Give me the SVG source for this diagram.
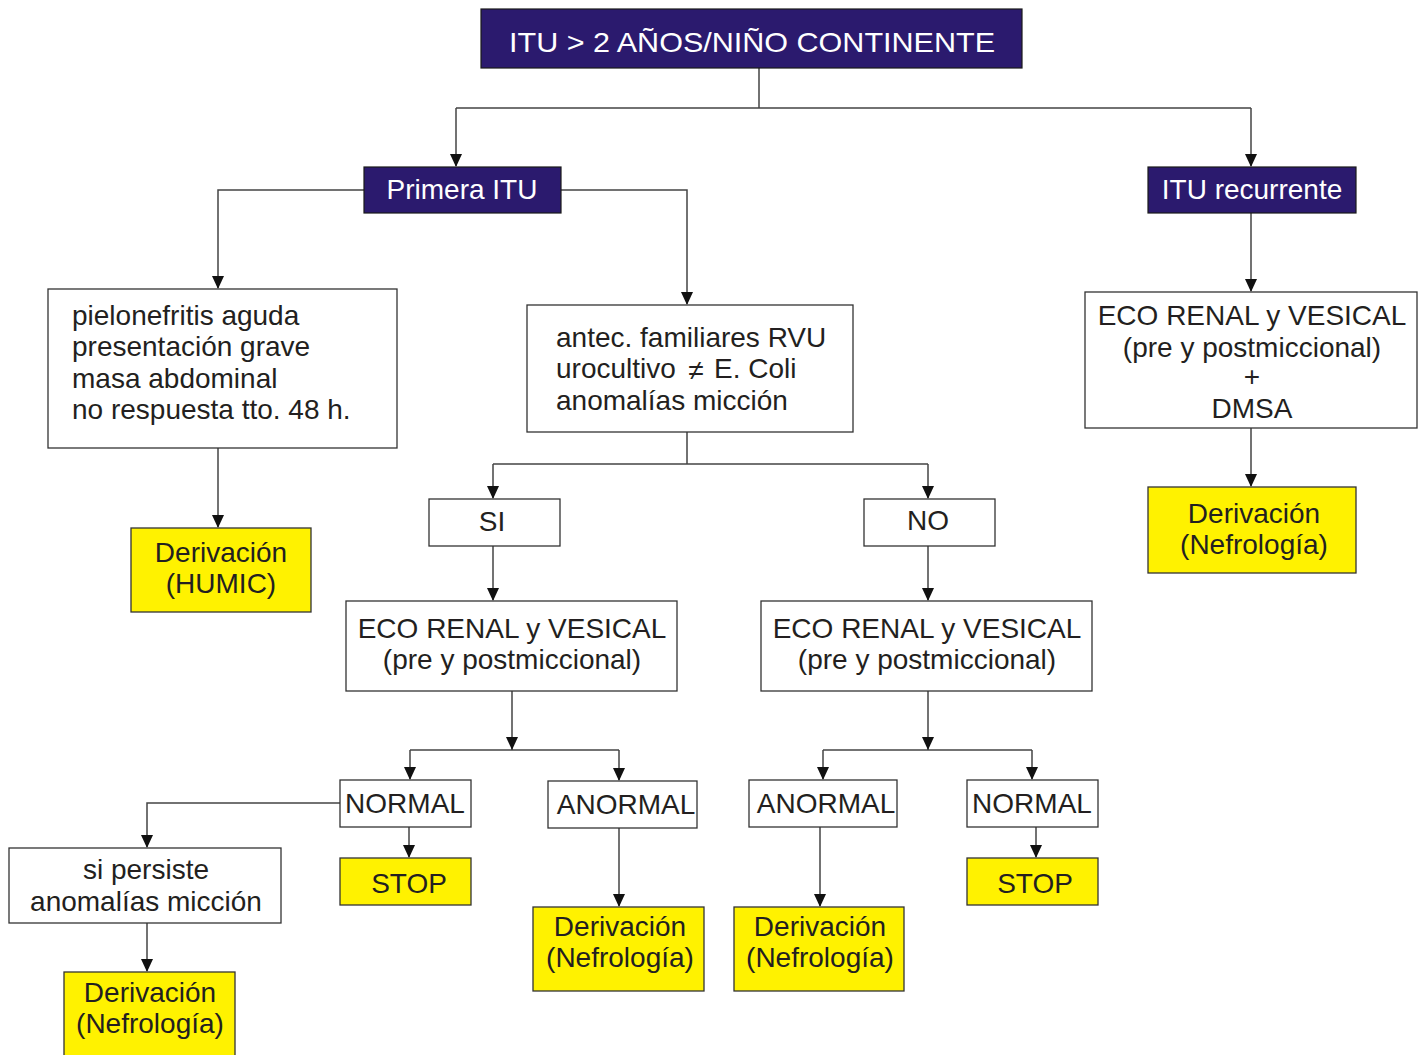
<svg xmlns="http://www.w3.org/2000/svg" width="1426" height="1055" viewBox="0 0 1426 1055">
<style>
text{font-family:"Liberation Sans",Arial,sans-serif;font-size:28px;fill:#231f20}
.c{text-anchor:middle}
.w{fill:#ffffff}
.dark{fill:#2b1a6e;stroke:#1a1a1a;stroke-width:1.2}
.box{fill:#ffffff;stroke:#333;stroke-width:1.3}
.yel{fill:#fff200;stroke:#333;stroke-width:1.3}
.ln{fill:none;stroke:#444;stroke-width:1.5}
</style>
<defs>
<path id="ah" d="M-6,-13 L6,-13 L0,0 Z" fill="#111"/>
</defs>
<g id="connectors">
<path class="ln" d="M759,68 V108 M456,108 H1251"/>
<path class="ln" d="M456,108 V166"/>
<path class="ln" d="M1251,108 V166"/>
<path class="ln" d="M364,190 H218 V288"/>
<path class="ln" d="M561,190 H687 V304"/>
<path class="ln" d="M218,448 V527"/>
<path class="ln" d="M687,432 V464 M493,464 H928"/>
<path class="ln" d="M493,464 V498"/>
<path class="ln" d="M928,464 V498"/>
<path class="ln" d="M493,546 V600"/>
<path class="ln" d="M928,546 V600"/>
<path class="ln" d="M512,691 V750"/>
<path class="ln" d="M410,750 H619"/>
<path class="ln" d="M410,750 V779"/>
<path class="ln" d="M619,750 V780"/>
<path class="ln" d="M928,691 V750"/>
<path class="ln" d="M823,750 H1032"/>
<path class="ln" d="M823,750 V779"/>
<path class="ln" d="M1032,750 V779"/>
<path class="ln" d="M340,803 H147 V847"/>
<path class="ln" d="M147,923 V971"/>
<path class="ln" d="M409,827 V857"/>
<path class="ln" d="M619,828 V906"/>
<path class="ln" d="M820,827 V906"/>
<path class="ln" d="M1036,827 V857"/>
<path class="ln" d="M1251,213 V291"/>
<path class="ln" d="M1251,428 V486"/>
<use href="#ah" x="456" y="167"/>
<use href="#ah" x="1251" y="167"/>
<use href="#ah" x="218" y="289"/>
<use href="#ah" x="687" y="305"/>
<use href="#ah" x="218" y="528"/>
<use href="#ah" x="493" y="499"/>
<use href="#ah" x="928" y="499"/>
<use href="#ah" x="493" y="601"/>
<use href="#ah" x="928" y="601"/>
<use href="#ah" x="512" y="750"/>
<use href="#ah" x="410" y="780"/>
<use href="#ah" x="619" y="781"/>
<use href="#ah" x="928" y="750"/>
<use href="#ah" x="823" y="780"/>
<use href="#ah" x="1032" y="780"/>
<use href="#ah" x="147" y="848"/>
<use href="#ah" x="147" y="972"/>
<use href="#ah" x="409" y="858"/>
<use href="#ah" x="619" y="907"/>
<use href="#ah" x="820" y="907"/>
<use href="#ah" x="1036" y="858"/>
<use href="#ah" x="1251" y="292"/>
<use href="#ah" x="1251" y="487"/>
</g>
<g id="n-title">
<rect class="dark" x="481" y="9" width="541" height="59"/>
<text class="c w" x="752" y="52" font-size="33" textLength="486" lengthAdjust="spacingAndGlyphs">ITU &gt; 2 AÑOS/NIÑO CONTINENTE</text>
</g>
<g id="n-primera">
<rect class="dark" x="364" y="167" width="197" height="46"/>
<text class="c w" x="462" y="199" font-size="27">Primera ITU</text>
</g>
<g id="n-recurrente">
<rect class="dark" x="1148" y="167" width="208" height="46"/>
<text class="c w" x="1252" y="199" font-size="27">ITU recurrente</text>
</g>
<g id="n-pielo">
<rect class="box" x="48" y="289" width="349" height="159"/>
<text x="72" y="325">pielonefritis aguda</text>
<text x="72" y="356">presentación grave</text>
<text x="72" y="388">masa abdominal</text>
<text x="72" y="419">no respuesta tto. 48 h.</text>
</g>
<g id="n-humic">
<rect class="yel" x="131" y="528" width="180" height="84"/>
<text class="c" x="221" y="562">Derivación</text>
<text class="c" x="221" y="593">(HUMIC)</text>
</g>
<g id="n-antec">
<rect class="box" x="527" y="305" width="326" height="127"/>
<text x="556" y="347">antec. familiares RVU</text>
<text x="556" y="378">urocultivo</text>
<text class="c" x="696" y="380" font-size="32">≠</text>
<text x="714" y="378">E. Coli</text>
<text x="556" y="410">anomalías micción</text>
</g>
<g id="n-si">
<rect class="box" x="429" y="499" width="131" height="47"/>
<text class="c" x="492" y="531">SI</text>
</g>
<g id="n-no">
<rect class="box" x="864" y="499" width="131" height="47"/>
<text class="c" x="928" y="530">NO</text>
</g>
<g id="n-eco-si">
<rect class="box" x="346" y="601" width="331" height="90"/>
<text class="c" x="512" y="638">ECO RENAL y VESICAL</text>
<text class="c" x="512" y="669">(pre y postmiccional)</text>
</g>
<g id="n-eco-no">
<rect class="box" x="761" y="601" width="331" height="90"/>
<text class="c" x="927" y="638">ECO RENAL y VESICAL</text>
<text class="c" x="927" y="669">(pre y postmiccional)</text>
</g>
<g id="n-normal-l">
<rect class="box" x="340" y="780" width="131" height="47"/>
<text class="c" x="405" y="813">NORMAL</text>
</g>
<g id="n-anormal-l">
<rect class="box" x="548" y="781" width="149" height="47"/>
<text class="c" x="626" y="814">ANORMAL</text>
</g>
<g id="n-anormal-r">
<rect class="box" x="749" y="780" width="148" height="47"/>
<text class="c" x="826" y="813">ANORMAL</text>
</g>
<g id="n-normal-r">
<rect class="box" x="967" y="780" width="131" height="47"/>
<text class="c" x="1032" y="813">NORMAL</text>
</g>
<g id="n-persiste">
<rect class="box" x="9" y="848" width="272" height="75"/>
<text class="c" x="146" y="879">si persiste</text>
<text class="c" x="146" y="911">anomalías micción</text>
</g>
<g id="n-der-persiste">
<rect class="yel" x="64" y="972" width="171" height="90"/>
<text class="c" x="150" y="1002">Derivación</text>
<text class="c" x="150" y="1033">(Nefrología)</text>
</g>
<g id="n-stop-l">
<rect class="yel" x="340" y="858" width="131" height="47"/>
<text class="c" x="409" y="893">STOP</text>
</g>
<g id="n-der-anormal-l">
<rect class="yel" x="533" y="907" width="171" height="84"/>
<text class="c" x="620" y="936">Derivación</text>
<text class="c" x="620" y="967">(Nefrología)</text>
</g>
<g id="n-der-anormal-r">
<rect class="yel" x="734" y="907" width="170" height="84"/>
<text class="c" x="820" y="936">Derivación</text>
<text class="c" x="820" y="967">(Nefrología)</text>
</g>
<g id="n-stop-r">
<rect class="yel" x="967" y="858" width="131" height="47"/>
<text class="c" x="1035" y="893">STOP</text>
</g>
<g id="n-eco-rec">
<rect class="box" x="1085" y="292" width="332" height="136"/>
<text class="c" x="1252" y="325">ECO RENAL y VESICAL</text>
<text class="c" x="1252" y="357">(pre y postmiccional)</text>
<text class="c" x="1252" y="386">+</text>
<text class="c" x="1252" y="418">DMSA</text>
</g>
<g id="n-der-rec">
<rect class="yel" x="1148" y="487" width="208" height="86"/>
<text class="c" x="1254" y="523">Derivación</text>
<text class="c" x="1254" y="554">(Nefrología)</text>
</g>
</svg>
